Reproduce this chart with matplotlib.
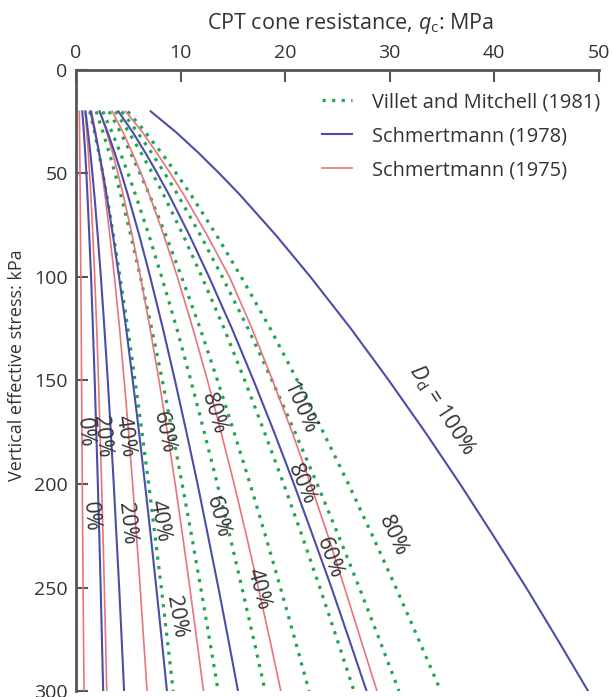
import matplotlib.pyplot as plt
from matplotlib.lines import Line2D

plt.rcParams['font.family'] = ['Open Sans', 'DejaVu Sans']
plt.rcParams['mathtext.fontset'] = 'custom'
plt.rcParams['mathtext.rm'] = 'Open Sans'
plt.rcParams['mathtext.it'] = 'Open Sans:italic'

# vertical effective stress (kPa) at which the curves were read
stress = [20, 30, 40, 50, 60, 80, 100, 125, 150, 175, 200, 225, 250, 275, 300]

# Schmertmann (1978), qc in MPa, Dr = 0, 20, 40, 60, 80, 100 %
s78_dr0 = [0.60, 0.75, 0.88, 0.99, 1.09, 1.27, 1.44, 1.62, 1.79, 1.94, 2.09, 2.23, 2.36, 2.48, 2.60]
s78_dr20 = [0.91, 1.15, 1.37, 1.57, 1.75, 2.08, 2.38, 2.72, 3.04, 3.33, 3.61, 3.87, 4.13, 4.37, 4.60]
s78_dr40 = [1.38, 1.82, 2.21, 2.58, 2.91, 3.54, 4.12, 4.80, 5.43, 6.03, 6.60, 7.15, 7.68, 8.20, 8.70]
s78_dr60 = [2.26, 3.02, 3.70, 4.34, 4.94, 6.06, 7.10, 8.32, 9.47, 10.57, 11.63, 12.63, 13.62, 14.57, 15.50]
s78_dr80 = [4.06, 5.42, 6.64, 7.78, 8.87, 10.87, 12.73, 14.93, 16.99, 18.96, 20.85, 22.66, 24.44, 26.13, 27.80]
s78_dr100 = [7.15, 9.56, 11.71, 13.72, 15.63, 19.16, 22.44, 26.31, 29.94, 33.42, 36.75, 39.94, 43.07, 46.06, 49.00]

# Schmertmann (1975)
s75_dr0 = [0.32, 0.34, 0.36, 0.38, 0.40, 0.43, 0.46, 0.50, 0.53, 0.57, 0.60, 0.64, 0.68, 0.72, 0.77]
s75_dr20 = [0.86, 1.03, 1.18, 1.30, 1.42, 1.61, 1.79, 1.98, 2.15, 2.30, 2.45, 2.58, 2.71, 2.83, 2.94]
s75_dr40 = [1.50, 1.87, 2.20, 2.50, 2.76, 3.24, 3.68, 4.17, 4.61, 5.03, 5.42, 5.79, 6.14, 6.47, 6.80]
s75_dr60 = [2.28, 2.93, 3.50, 4.01, 4.50, 5.38, 6.17, 7.09, 7.94, 8.74, 9.49, 10.20, 10.89, 11.55, 12.20]
s75_dr80 = [3.47, 4.49, 5.39, 6.23, 7.00, 8.41, 9.70, 11.19, 12.58, 13.88, 15.13, 16.31, 17.44, 18.54, 19.60]
s75_dr100 = [4.75, 6.34, 7.72, 9.04, 10.28, 12.56, 14.69, 16.85, 18.81, 20.68, 22.44, 24.11, 25.69, 27.24, 28.80]

# Villet and Mitchell (1981), Dr = 20 ... 80 %
vm_dr20 = [1.32, 1.77, 2.18, 2.56, 2.92, 3.59, 4.21, 4.96, 5.65, 6.31, 6.95, 7.56, 8.16, 8.73, 9.30]
vm_dr30 = [1.93, 2.58, 3.18, 3.74, 4.27, 5.25, 6.16, 7.25, 8.26, 9.22, 10.16, 11.06, 11.93, 12.77, 13.60]
vm_dr40 = [2.57, 3.44, 4.24, 4.98, 5.68, 6.99, 8.20, 9.65, 10.99, 12.27, 13.52, 14.72, 15.87, 17.00, 18.10]
vm_dr50 = [3.17, 4.24, 5.22, 6.13, 7.00, 8.61, 10.10, 11.89, 13.54, 15.12, 16.66, 18.13, 19.56, 20.94, 22.30]
vm_dr60 = [3.78, 5.05, 6.22, 7.32, 8.35, 10.27, 12.05, 14.18, 16.15, 18.03, 19.87, 21.63, 23.33, 24.98, 26.60]
vm_dr70 = [4.39, 5.87, 7.23, 8.50, 9.70, 11.93, 14.00, 16.47, 18.76, 20.95, 23.08, 25.12, 27.10, 29.02, 30.90]
vm_dr80 = [4.96, 6.63, 8.17, 9.60, 10.96, 13.47, 15.81, 18.60, 21.18, 23.66, 26.07, 28.37, 30.61, 32.77, 34.90]

# curve labels: text, qc, stress, angle
s75_labels = ['0%', '20%', '40%', '60%', '80%', '100%']
s75_lab_q = [0.8, 2.5, 4.7, 8.35, 13.1, 21.4]
s75_lab_s = [175, 177, 177, 175, 166, 163]
s75_lab_rot = [-85, -84, -82, -78, -73, -66]

s78_labels = ['0%', '20%', '40%', '60%', '80%', r'$D_\mathrm{d}$ = 100%']
s78_lab_q = [1.4, 4.85, 7.97, 13.5, 21.6, 35.0]
s78_lab_s = [216, 219, 218, 216, 200, 164]
s78_lab_rot = [-86, -84, -80, -75, -67, -57]

vm_labels = ['20%', '40%', '60%', '80%']
vm_lab_q = [9.6, 17.4, 24.2, 30.3]
vm_lab_s = [264, 251, 236, 225]
vm_lab_rot = [-80, -75, -70, -65]

green = '#1fa64e'
blue = '#4a4ea6'
red = '#e8737d'
txt = '#333333'

fig = plt.figure(figsize=(6.12, 6.97), dpi=100)
ax = fig.add_axes([0.1242, 0.0086, 0.8538, 0.891])

for q in [vm_dr20, vm_dr30, vm_dr40, vm_dr50, vm_dr60, vm_dr70, vm_dr80]:
    ax.plot(q, stress, color=green, lw=2.3, ls=(0, (1, 2)))
for q in [s75_dr0, s75_dr20, s75_dr40, s75_dr60, s75_dr80, s75_dr100]:
    ax.plot(q, stress, color=red, lw=1.2)
for q in [s78_dr0, s78_dr20, s78_dr40, s78_dr60, s78_dr80, s78_dr100]:
    ax.plot(q, stress, color=blue, lw=1.5)

for labs, qs, ss, rots in [(s75_labels, s75_lab_q, s75_lab_s, s75_lab_rot),
                           (s78_labels, s78_lab_q, s78_lab_s, s78_lab_rot),
                           (vm_labels, vm_lab_q, vm_lab_s, vm_lab_rot)]:
    for t, q, s, r in zip(labs, qs, ss, rots):
        ax.text(q, s, t, rotation=r, rotation_mode='anchor', ha='center',
                va='center', fontsize=15.5, color=txt)

ax.set_xlim(0, 50)
ax.set_ylim(300, 0)
ax.set_xticks([0, 10, 20, 30, 40, 50])
ax.set_yticks([0, 50, 100, 150, 200, 250, 300])
ax.xaxis.tick_top()
ax.xaxis.set_label_position('top')
ax.spines['right'].set_visible(False)
ax.spines['bottom'].set_visible(False)
for side in ['top', 'left']:
    ax.spines[side].set_color('#555555')
    ax.spines[side].set_linewidth(2.0)
ax.tick_params(direction='in', length=8.5, width=1.5, color='#555555',
               labelcolor=txt, labelsize=14, pad=6)
ax.set_xlabel(r'CPT cone resistance, $q_\mathrm{c}$: MPa', fontsize=15.5,
              color=txt, ha='left')
ax.xaxis.set_label_coords(0.251, 1.066)
ax.set_ylabel('Vertical effective stress: kPa', fontsize=13, color=txt,
              va='center')
ax.yaxis.set_label_coords(-0.113, 0.525)

handles = [Line2D([], [], color=green, lw=2.3, ls=(0, (1, 2))),
           Line2D([], [], color=blue, lw=1.5),
           Line2D([], [], color=red, lw=1.2)]
ax.legend(handles, ['Villet and Mitchell (1981)', 'Schmertmann (1978)',
                    'Schmertmann (1975)'],
          loc='upper left', bbox_to_anchor=(0.471, 0.964), frameon=False,
          fontsize=14.4, handlelength=1.5, handletextpad=1.0,
          labelspacing=0.7, borderpad=0, borderaxespad=0, labelcolor=txt)

fig.savefig('out.png', dpi=100)
